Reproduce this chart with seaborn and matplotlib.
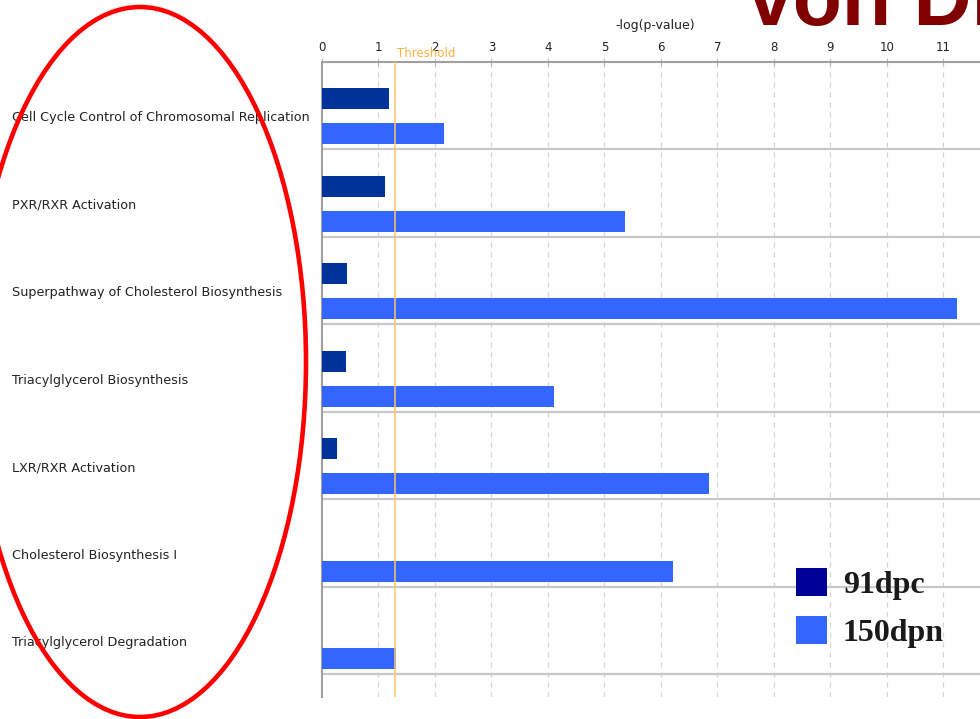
import matplotlib
matplotlib.use("Agg")
import matplotlib.pyplot as plt
import seaborn as sns
import pandas as pd
from matplotlib.patches import Ellipse, Patch

pathways = [
    "Cell Cycle Control of Chromosomal Replication",
    "PXR/RXR Activation",
    "Superpathway of Cholesterol Biosynthesis",
    "Triacylglycerol Biosynthesis",
    "LXR/RXR Activation",
    "Cholesterol Biosynthesis I",
    "Triacylglycerol Degradation",
]
vals_91dpc = [1.19, 1.12, 0.44, 0.42, 0.27, 0.0, 0.0]
vals_150dpn = [2.16, 5.36, 11.24, 4.11, 6.85, 6.21, 1.31]
series = ["91dpc", "150dpn"]
threshold = 1.3
xticks = list(range(0, 12))

bar_colors = {"91dpc": "#003399", "150dpn": "#3366FF"}
legend_colors = {"91dpc": "#000099", "150dpn": "#3366FF"}

df = pd.DataFrame({
    "pathway": pathways * 2,
    "sample": [series[0]] * len(pathways) + [series[1]] * len(pathways),
    "value": vals_91dpc + vals_150dpn,
})

sns.set_style("white")
plt.rcParams['font.family'] = ['DejaVu Sans']

W, H = 980, 719
fig = plt.figure(figsize=(W / 100, H / 100), dpi=100)
ax = fig.add_axes([322 / W, 1 - 697 / H, 1 - 322 / W, (697 - 62) / H])

sns.barplot(data=df, y="pathway", x="value", hue="sample", order=pathways,
            hue_order=series, palette=bar_colors, orient="h", width=0.8,
            gap=0.4, errorbar=None, linewidth=0, saturation=1, legend=False,
            ax=ax, zorder=3)

ax.set_xlim(0, 11.65)
ax.set_ylim(6.64, -0.62)

# row separators
for k in range(len(pathways)):
    ax.axhline(k + 0.38, color="#c8c8c8", lw=1.6, zorder=1)
# vertical dashed grid
for t in xticks[1:]:
    ax.axvline(t, color="#d4d4d4", lw=0.9, ls=(0, (4, 4)), zorder=0)
# threshold
ax.axvline(threshold, color="#FFC46B", lw=1.1, zorder=4)
ax.text(threshold + 0.02, -0.72, "Threshold", color="#FFB040", fontsize=8.5,
        ha="left", va="center", clip_on=False, zorder=5)

ax.xaxis.tick_top()
ax.xaxis.set_label_position("top")
ax.set_xticks(xticks)
ax.set_xticklabels([str(t) for t in xticks], fontsize=8.5, color="#222222")
ax.tick_params(axis="x", direction="inout", length=6, color="#bbbbbb", pad=3)
ax.set_xlabel("-log(p-value)", fontsize=9, color="#222222")
ax.xaxis.set_label_coords((655 - 322) / (W - 322), (697 - 26) / (697 - 62))
ax.xaxis.label.set_va("center")

ax.set_ylabel("")
ax.tick_params(axis="y", length=0, pad=310 * 0.72)
for lbl in ax.get_yticklabels():
    lbl.set_ha("left")
    lbl.set_fontsize(9.2)
    lbl.set_color("#222222")

for side in ["right", "bottom"]:
    ax.spines[side].set_visible(False)
ax.spines["left"].set_color("#a0a0a0")
ax.spines["left"].set_linewidth(1.5)
ax.spines["top"].set_color("#a0a0a0")
ax.spines["top"].set_linewidth(1.5)

# legend
handles = [Patch(facecolor=legend_colors[s], edgecolor="none", label=s) for s in series]
leg = fig.legend(handles=handles, loc="upper left",
                 bbox_to_anchor=(796 / W, 1 - 568 / H), frameon=False,
                 prop={"family": "Liberation Serif", "weight": "bold", "size": 23},
                 handlelength=0.97, handleheight=0.97, handletextpad=0.5,
                 labelspacing=0.5, borderpad=0, borderaxespad=0)
for t in leg.get_texts():
    t.set_color("#1a1a1a")

# big cut-off title text
fig.text(748 / W, 1 - 25 / H, "von Dr", fontsize=58, fontweight="bold",
         family="Liberation Sans", color="#800000", ha="left", va="baseline")

# red ellipse annotation
ell = Ellipse((140 / W, 1 - 362 / H), width=332 / W, height=710 / H,
              transform=fig.transFigure, fill=False, edgecolor="#FF0000",
              lw=3.3, zorder=10)
fig.patches.append(ell)

fig.savefig("out.png", dpi=100)
